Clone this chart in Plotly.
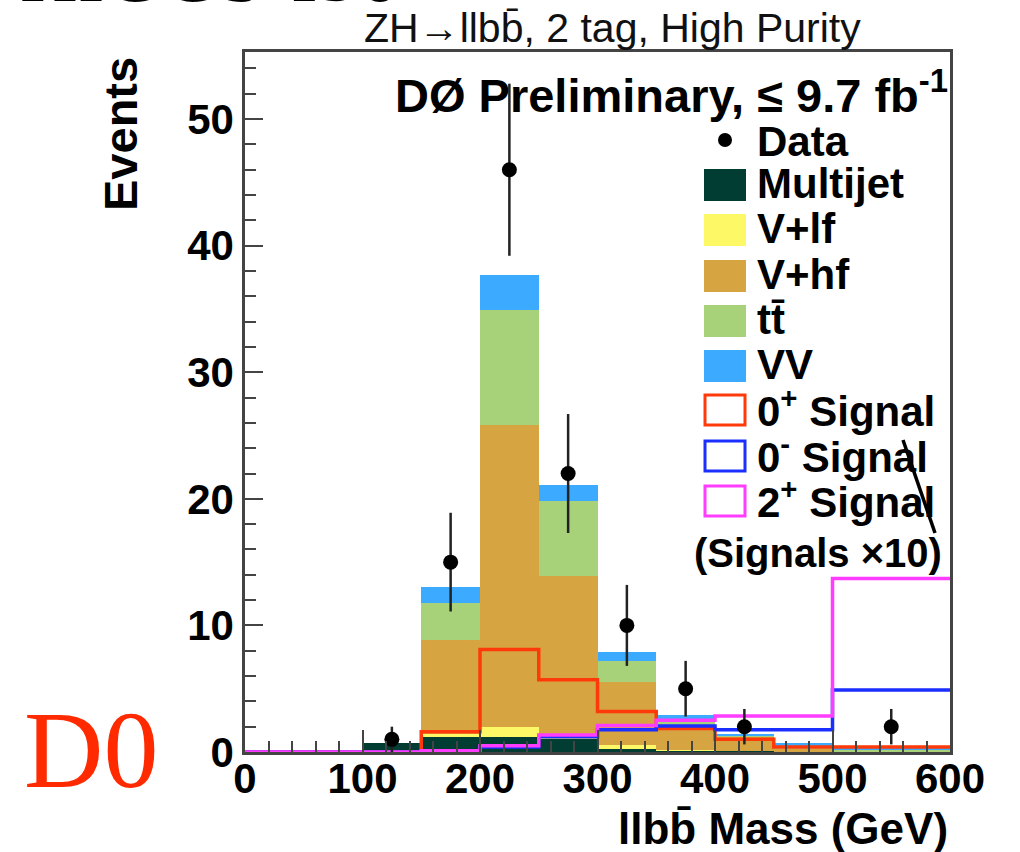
import plotly.graph_objects as go

# ---------------- data ----------------
bin_edges = [0, 50, 100, 150, 200, 250, 300, 350, 400, 450, 500, 600]

multijet = [0, 0, 0.7, 1.2, 1.2, 1.1, 0.25, 0.1, 0.05, 0, 0]
v_lf     = [0, 0, 0, 0.2, 0.8, 0.05, 0.3, 0.05, 0, 0, 0]
v_hf     = [0, 0, 0, 7.45, 23.85, 12.75, 4.95, 1.65, 1.15, 0.2, 0.05]
ttbar    = [0, 0, 0, 2.95, 9.05, 5.9, 1.65, 0.8, 0.1, 0.3, 0.15]
vv       = [0, 0, 0, 1.2, 2.8, 1.3, 0.75, 0.3, 0.1, 0.25, 0.15]

sig_0p = [0, 0, 0, 1.6, 8.1, 5.7, 3.2, 1.85, 1.0, 0.4, 0.4]
sig_0m = [0, 0, 0, 0.1, 0.4, 1.2, 1.75, 2.05, 1.75, 1.75, 4.9]
sig_2p = [0, 0, 0, 0.1, 0.5, 1.35, 2.1, 2.5, 2.85, 2.85, 13.7]

data_x   = [125, 175, 225, 275, 325, 375, 425, 550]
data_y   = [1, 15, 46, 22, 10, 5, 2, 2]
data_err = [1.0, 3.9, 6.8, 4.7, 3.2, 2.2, 1.4, 1.4]

bkg_names  = ["Multijet", "V+lf", "V+hf", "tt̄", "VV"]
bkg_colors = ["#023d33", "#fdf865", "#d6a440", "#a8d27a", "#3caaff"]
sig_names  = ["0<sup>+</sup> Signal", "0<sup>-</sup> Signal", "2<sup>+</sup> Signal"]
sig_colors = ["#ff3a0a", "#1a2eff", "#ff3cff"]

# ---------------- helpers (pixel -> paper) ----------------
L, R, T, B = 245, 950, 52, 752
W, H = 1020, 852
def PX(x):
    return (x - L) / (R - L)
def PY(y):
    return (B - y) / (B - T)

centers = [(a + b) / 2 for a, b in zip(bin_edges[:-1], bin_edges[1:])]
widths = [b - a for a, b in zip(bin_edges[:-1], bin_edges[1:])]

fig = go.Figure()

for name, vals, col in zip(bkg_names, [multijet, v_lf, v_hf, ttbar, vv], bkg_colors):
    fig.add_trace(go.Bar(x=centers, y=vals, width=widths, name=name,
                         marker=dict(color=col, line=dict(width=0)),
                         showlegend=False, hoverinfo="skip"))

for name, vals, col in zip(sig_names, [sig_0p, sig_0m, sig_2p], sig_colors):
    fig.add_trace(go.Scatter(x=bin_edges, y=list(vals) + [vals[-1]], mode="lines",
                             line=dict(color=col, width=3.5, shape="hv"),
                             name=name, showlegend=False, hoverinfo="skip"))

fig.add_trace(go.Scatter(x=data_x, y=data_y, mode="markers", name="Data",
                         marker=dict(color="black", size=15),
                         error_y=dict(type="data", array=data_err, color="#222",
                                      thickness=2.5, width=0),
                         showlegend=False))

# ---------------- annotations / legend ----------------
ann = []
shapes = []
bold = dict(family="Liberation Sans", color="black", weight="bold")

def text(x, y, s, size, xanchor="left", yanchor="middle", font=None, **kw):
    f = dict(bold if font is None else font)
    f["size"] = size
    ann.append(dict(x=PX(x), y=PY(y), xref="paper", yref="paper", text=s,
                    showarrow=False, xanchor=xanchor, yanchor=yanchor,
                    font=f, **kw))

# legend
text(755, 141, "Data", 42)
shapes.append(dict(type="circle", xref="paper", yref="paper",
                   x0=PX(718), x1=PX(732), y0=PY(133), y1=PY(147),
                   fillcolor="black", line=dict(width=0)))
leg_y = [185, 230, 276, 321, 366]
for yy, nm, col in zip(leg_y, bkg_names, bkg_colors):
    shapes.append(dict(type="rect", xref="paper", yref="paper",
                       x0=PX(704), x1=PX(746), y0=PY(yy - 16), y1=PY(yy + 16),
                       fillcolor=col, line=dict(width=0)))
    text(755, yy - 2, nm, 42)
sig_leg_y = [410, 456, 501]
for yy, nm, col in zip(sig_leg_y, sig_names, sig_colors):
    shapes.append(dict(type="rect", xref="paper", yref="paper",
                       x0=PX(705), x1=PX(745), y0=PY(yy - 15), y1=PY(yy + 15),
                       fillcolor="rgba(0,0,0,0)", line=dict(color=col, width=3)))
    text(755, yy - 2, nm, 42)
text(818, 553, "(Signals ×10)", 40, xanchor="center")

# stray black stroke
shapes.append(dict(type="line", xref="paper", yref="paper",
                   x0=PX(903), y0=PY(440), x1=PX(935), y1=PY(533),
                   line=dict(color="black", width=3.5)))

text(950, 92, "DØ Preliminary, ≤ 9.7 fb<sup>-1</sup>", 47, xanchor="right")
text(612, 28, "ZH→llbb̄, 2 tag, High Purity", 41, xanchor="center",
     font=dict(family="Liberation Sans", color="#111"))
text(950, 828, "llbb̄ Mass (GeV)", 44, xanchor="right")
ann.append(dict(x=PX(120), y=PY(55), xref="paper", yref="paper", text="Events",
                showarrow=False, textangle=-90, xanchor="center", yanchor="top",
                font=dict(bold, size=47)))
text(18, 20, "HIGGS-I56", 80, yanchor="bottom",
     font=dict(family="Liberation Serif", color="black"))
text(22, 750, "D0", 110, font=dict(family="Liberation Serif", color="#ff2a00"))

axis_common = dict(showline=True, linecolor="#444", linewidth=2.5, mirror=True,
                   ticks="inside", tickcolor="#444", tickwidth=2,
                   showgrid=False, zeroline=False,
                   tickfont=dict(family="Liberation Sans", size=42,
                                 color="black", weight="bold"))

fig.update_layout(
    width=W, height=H,
    margin=dict(l=L, r=W - R, t=T, b=H - B, pad=0),
    paper_bgcolor="white", plot_bgcolor="white",
    barmode="stack", bargap=0,
    showlegend=False,
    xaxis=dict(range=[0, 600], tickvals=[0, 100, 200, 300, 400, 500, 600],
               ticklen=22, ticklabelstandoff=-12,
               minor=dict(dtick=20, ticks="inside", ticklen=11,
                          tickcolor="#444", tickwidth=2),
               **axis_common),
    yaxis=dict(range=[0, 55.3], tickvals=[0, 10, 20, 30, 40, 50],
               ticklen=18, minor=dict(dtick=2, ticks="inside", ticklen=11,
                                      tickcolor="#444", tickwidth=2),
               **axis_common),
    annotations=ann,
    shapes=shapes,
)

fig.write_html("out.html")
